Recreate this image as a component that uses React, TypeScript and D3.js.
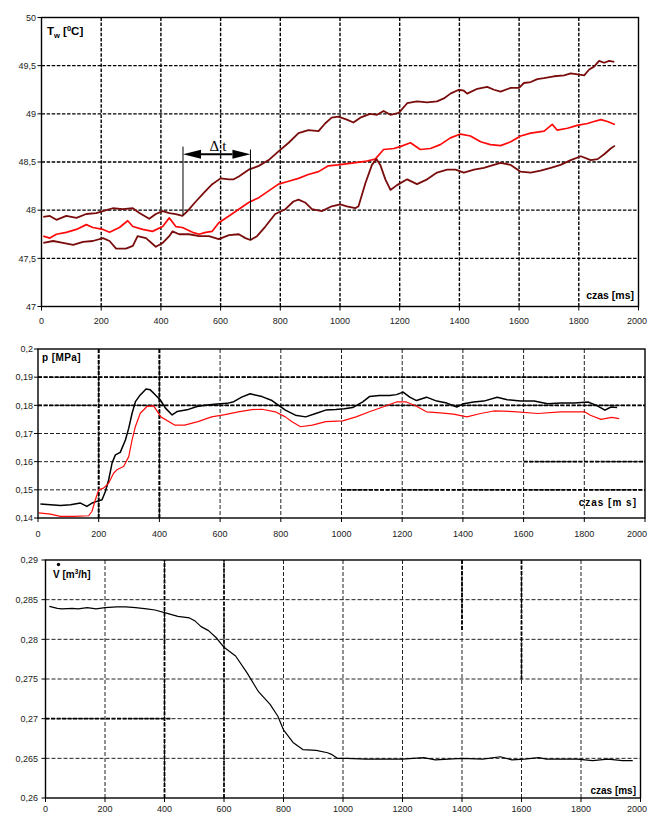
import React from "react";
import * as d3 from "d3";

// ---------- shared axis values ----------
const timeTicks = [0, 200, 400, 600, 800, 1000, 1200, 1400, 1600, 1800, 2000];
const timeGrid = [200, 400, 600, 800, 1000, 1200, 1400, 1600, 1800];

// ---------- panel 1: temperature ----------
const tempTicks = [47, 47.5, 48, 48.5, 49, 49.5, 50];
const tempUpper: [number, number][] = [
  [6, 47.93], [28, 47.94], [50, 47.9], [83, 47.94], [117, 47.92], [150, 47.96], [183, 47.97],
  [217, 48.0], [239, 48.02], [272, 48.01], [306, 48.02], [328, 47.97], [361, 47.91], [383, 47.96],
  [406, 47.99], [428, 47.97], [450, 47.96], [472, 47.94], [489, 47.99], [517, 48.09], [550, 48.2],
  [572, 48.27], [600, 48.33], [628, 48.32], [644, 48.32], [661, 48.35], [694, 48.42], [728, 48.46],
  [761, 48.52], [794, 48.61], [828, 48.7], [861, 48.8], [894, 48.83], [928, 48.82], [950, 48.9],
  [972, 48.96], [994, 48.97], [1023, 48.94], [1045, 48.91], [1068, 48.96], [1101, 49.0], [1124, 48.99],
  [1146, 49.03], [1169, 48.99], [1197, 49.01], [1225, 49.11], [1258, 49.13], [1292, 49.12], [1325, 49.13],
  [1348, 49.16], [1370, 49.21], [1398, 49.25], [1415, 49.24], [1426, 49.21], [1460, 49.26], [1493, 49.28],
  [1516, 49.25], [1538, 49.23], [1572, 49.27], [1600, 49.27], [1616, 49.32], [1639, 49.33], [1661, 49.36],
  [1683, 49.37], [1717, 49.39], [1751, 49.4], [1773, 49.42], [1796, 49.41], [1818, 49.4], [1835, 49.46],
  [1851, 49.49], [1868, 49.55], [1885, 49.53], [1902, 49.55], [1919, 49.54],
];
const tempMiddle: [number, number][] = [
  [6, 47.73], [28, 47.71], [50, 47.75], [83, 47.77], [117, 47.8], [150, 47.85], [172, 47.82],
  [206, 47.8], [228, 47.77], [261, 47.82], [289, 47.89], [306, 47.83], [339, 47.8], [372, 47.78],
  [406, 47.83], [428, 47.92], [450, 47.83], [472, 47.82], [506, 47.77], [528, 47.75], [550, 47.77],
  [572, 47.78], [594, 47.87], [628, 47.94], [661, 48.01], [694, 48.08], [728, 48.13], [761, 48.2],
  [794, 48.27], [828, 48.3], [861, 48.33], [894, 48.37], [928, 48.4], [961, 48.46], [994, 48.47],
  [1046, 48.49], [1090, 48.51], [1118, 48.53], [1146, 48.63], [1180, 48.64], [1202, 48.66], [1236, 48.7],
  [1269, 48.63], [1303, 48.64], [1336, 48.68], [1370, 48.75], [1404, 48.79], [1437, 48.77], [1471, 48.71],
  [1504, 48.68], [1538, 48.67], [1572, 48.71], [1605, 48.77], [1639, 48.8], [1684, 48.82], [1711, 48.89],
  [1728, 48.83], [1762, 48.85], [1795, 48.88], [1829, 48.9], [1851, 48.92], [1874, 48.94], [1896, 48.92],
  [1921, 48.89],
];
const tempLower: [number, number][] = [
  [6, 47.66], [39, 47.68], [72, 47.66], [106, 47.64], [139, 47.67], [172, 47.68], [206, 47.71],
  [228, 47.68], [250, 47.6], [283, 47.6], [306, 47.63], [322, 47.73], [350, 47.71], [383, 47.62],
  [406, 47.66], [428, 47.73], [439, 47.78], [461, 47.75], [494, 47.75], [528, 47.73], [561, 47.73],
  [594, 47.7], [628, 47.74], [661, 47.75], [683, 47.71], [700, 47.69], [722, 47.73], [750, 47.83],
  [783, 47.96], [817, 48.01], [844, 48.09], [861, 48.11], [883, 48.08], [906, 48.01], [939, 47.99],
  [972, 48.04], [1001, 48.06], [1023, 48.04], [1051, 48.02], [1062, 48.04], [1085, 48.28], [1107, 48.47],
  [1122, 48.53], [1135, 48.47], [1152, 48.32], [1169, 48.21], [1191, 48.26], [1225, 48.32], [1258, 48.27],
  [1292, 48.32], [1325, 48.39], [1359, 48.42], [1387, 48.42], [1415, 48.39], [1449, 48.42], [1482, 48.44],
  [1504, 48.46], [1538, 48.49], [1572, 48.47], [1605, 48.4], [1639, 48.39], [1672, 48.41], [1706, 48.44],
  [1739, 48.47], [1773, 48.52], [1807, 48.56], [1840, 48.52], [1863, 48.53], [1885, 48.58], [1907, 48.64],
  [1921, 48.67],
];
// Δt annotation: start/end times, marker tops/bottoms (°C), arrow level
const deltaTimes = [474, 700];
const deltaTops = [48.66, 48.63];
const deltaBottoms = [47.95, 47.69];
const deltaArrowLevel = 48.58;

// ---------- panel 2: pressure ----------
const presTicks = [0.14, 0.15, 0.16, 0.17, 0.18, 0.19, 0.2];
const presBlack: [number, number][] = [
  [8, 0.145], [41, 0.1447], [74, 0.1444], [107, 0.1447], [140, 0.1453], [161, 0.1441], [178, 0.1453],
  [194, 0.1459], [211, 0.1465], [222, 0.1494], [233, 0.1536], [244, 0.1595], [255, 0.1624], [271, 0.1633],
  [288, 0.1677], [299, 0.1719], [310, 0.1772], [321, 0.1813], [337, 0.1837], [356, 0.1858], [370, 0.1855],
  [387, 0.1837], [403, 0.1819], [420, 0.179], [442, 0.1766], [458, 0.1778], [491, 0.1784], [524, 0.1796],
  [557, 0.1801], [590, 0.1805], [623, 0.1807], [645, 0.1813], [671, 0.1829], [699, 0.1841], [738, 0.1831],
  [771, 0.1817], [793, 0.18], [815, 0.1783], [848, 0.1765], [882, 0.1759], [915, 0.1771], [948, 0.1783],
  [981, 0.1785], [1009, 0.1788], [1037, 0.1792], [1070, 0.1812], [1092, 0.1831], [1125, 0.1835],
  [1159, 0.1835], [1181, 0.1838], [1203, 0.1847], [1225, 0.1829], [1247, 0.1817], [1280, 0.1829],
  [1314, 0.1815], [1347, 0.1808], [1380, 0.1794], [1402, 0.1806], [1435, 0.1812], [1469, 0.1815],
  [1513, 0.1829], [1546, 0.182], [1590, 0.1815], [1635, 0.1815], [1679, 0.1806], [1723, 0.1808],
  [1768, 0.1808], [1812, 0.1812], [1840, 0.18], [1868, 0.1783], [1888, 0.1794], [1908, 0.1792],
];
const presRed: [number, number][] = [
  [2, 0.1418], [41, 0.1414], [74, 0.1406], [118, 0.1406], [167, 0.1408], [178, 0.1424], [189, 0.1465],
  [200, 0.15], [216, 0.1506], [233, 0.1524], [249, 0.1559], [260, 0.1571], [282, 0.1583], [299, 0.1618],
  [310, 0.1677], [321, 0.1725], [337, 0.1772], [359, 0.1796], [381, 0.1798], [405, 0.1759], [450, 0.173],
  [483, 0.173], [527, 0.1742], [572, 0.1759], [616, 0.1767], [660, 0.1777], [705, 0.1785], [738, 0.1786],
  [782, 0.1777], [815, 0.1759], [837, 0.1742], [865, 0.1724], [904, 0.173], [948, 0.1742], [1004, 0.1745],
  [1048, 0.1759], [1092, 0.1777], [1136, 0.1794], [1181, 0.1812], [1214, 0.1812], [1247, 0.1797],
  [1280, 0.1777], [1325, 0.1773], [1369, 0.1769], [1413, 0.1759], [1458, 0.1771], [1502, 0.178],
  [1568, 0.1778], [1646, 0.1771], [1723, 0.1777], [1801, 0.1777], [1820, 0.1765], [1855, 0.175],
  [1890, 0.1757], [1915, 0.1753],
];

// ---------- panel 3: flow rate ----------
const flowTicks = [0.26, 0.265, 0.27, 0.275, 0.28, 0.285, 0.29];
const flowV: [number, number][] = [
  [13, 0.28416], [40, 0.2839], [55, 0.28385], [90, 0.2839], [110, 0.28385], [140, 0.284], [170, 0.28385],
  [200, 0.2840], [239, 0.2841], [270, 0.2841], [303, 0.284], [340, 0.28385], [368, 0.2837], [406, 0.2833],
  [445, 0.2829], [484, 0.2827], [503, 0.2823], [523, 0.2816], [548, 0.2811], [574, 0.2802], [600, 0.279],
  [639, 0.2779], [677, 0.2758], [716, 0.2734], [755, 0.2718], [781, 0.2703], [800, 0.2686], [832, 0.267],
  [865, 0.2661], [910, 0.266], [948, 0.2657], [961, 0.2655], [981, 0.265], [1013, 0.265], [1077, 0.2649],
  [1140, 0.2649], [1200, 0.2649], [1271, 0.2651], [1310, 0.2648], [1400, 0.265], [1470, 0.2649],
  [1529, 0.2652], [1568, 0.2648], [1610, 0.2649], [1658, 0.2651], [1684, 0.2649], [1787, 0.2649],
  [1839, 0.2647], [1890, 0.2649], [1940, 0.2647], [1974, 0.2647],
];

const SANS = "'Liberation Sans', Arial, Helvetica, sans-serif";
const SERIF = "'Liberation Serif', 'Times New Roman', serif";
const comma = (d: number) => String(d).replace(".", ",");

type Seg = { axis: "x" | "y"; v: number; from: number; to: number; w: number };

interface PanelProps {
  left: number; right: number; top: number; bottom: number;
  yDomain: [number, number];
  yTicks: number[];
  yLabelX: number;
  xLabelY: number;
  gridW: number;
  gridDash: string;
  gridColor: string;
  heavy?: Seg[];
  series: { data: [number, number][]; color: string; width: number }[];
  children?: (x: d3.ScaleLinear<number, number>, y: d3.ScaleLinear<number, number>) => React.ReactNode;
}

function Panel(p: PanelProps) {
  const x = d3.scaleLinear().domain([0, 2000]).range([p.left, p.right]);
  const y = d3.scaleLinear().domain(p.yDomain).range([p.bottom, p.top]);
  const line = d3.line<[number, number]>().x((d) => x(d[0])).y((d) => y(d[1]));
  const yGrid = p.yTicks.slice(1, -1);
  return (
    <g>
      {timeGrid.map((t) => (
        <line key={"vx" + t} x1={x(t)} x2={x(t)} y1={p.top} y2={p.bottom}
          stroke={p.gridColor} strokeWidth={p.gridW} strokeDasharray={p.gridDash} />
      ))}
      {yGrid.map((v) => (
        <line key={"hy" + v} x1={p.left} x2={p.right} y1={y(v)} y2={y(v)}
          stroke={p.gridColor} strokeWidth={p.gridW} strokeDasharray={p.gridDash} />
      ))}
      {(p.heavy || []).map((s, i) =>
        s.axis === "x" ? (
          <line key={"h" + i} x1={x(s.v)} x2={x(s.v)} y1={y(s.from)} y2={y(s.to)}
            stroke="#000" strokeWidth={s.w} strokeDasharray="4,1.5" />
        ) : (
          <line key={"h" + i} x1={x(s.from)} x2={x(s.to)} y1={y(s.v)} y2={y(s.v)}
            stroke="#000" strokeWidth={s.w} strokeDasharray="4,1.5" />
        )
      )}
      {p.series.map((s, i) => (
        <path key={"s" + i} d={line(s.data) || ""} fill="none" stroke={s.color}
          strokeWidth={s.width} strokeLinejoin="round" />
      ))}
      <rect x={p.left} y={p.top} width={p.right - p.left} height={p.bottom - p.top}
        fill="none" stroke="#000" strokeWidth={1.4} />
      {timeTicks.map((t) => (
        <g key={"xt" + t}>
          <line x1={x(t)} x2={x(t)} y1={p.bottom} y2={p.bottom + 4} stroke="#000" strokeWidth={1} />
          <text x={Math.min(x(t), 637)} y={p.xLabelY} textAnchor="middle" fontFamily={SANS} fontSize={9} fill="#222">{t}</text>
        </g>
      ))}
      {p.yTicks.map((v) => (
        <g key={"yt" + v}>
          <line x1={p.left - 4} x2={p.left} y1={y(v)} y2={y(v)} stroke="#000" strokeWidth={1} />
          <text x={p.yLabelX} y={y(v) + 3.2} textAnchor="end" fontFamily={SANS} fontSize={9} fill="#222">{comma(v)}</text>
        </g>
      ))}
      {p.children && p.children(x, y)}
    </g>
  );
}

export default function App() {
  return (
    <svg width={650} height={813} style={{ position: "absolute", left: 0, top: 0, background: "#fff" }}>
      <rect width={650} height={813} fill="#fff" />
      {/* Panel 1 */}
      <Panel left={41.5} right={638.5} top={17.5} bottom={306.5} yDomain={[47, 50]} yTicks={tempTicks}
        yLabelX={36} xLabelY={324} gridW={1.4} gridDash="3.5,1.6" gridColor="#000"
        series={[
          { data: tempUpper, color: "#7a0c0c", width: 1.8 },
          { data: tempMiddle, color: "#ff0a0a", width: 1.7 },
          { data: tempLower, color: "#7a0c0c", width: 1.8 },
        ]}>
        {(x, y) => {
          const xa = x(deltaTimes[0]);
          const xb = x(deltaTimes[1]);
          const ya = y(deltaArrowLevel);
          const cx = (xa + xb) / 2;
          const ah = 18;
          return (
            <g>
              {deltaTimes.map((t, i) => (
                <line key={"dl" + i} x1={x(t)} x2={x(t)} y1={y(deltaTops[i])} y2={y(deltaBottoms[i])}
                  stroke="#000" strokeWidth={1} />
              ))}
              <line x1={xa + ah} x2={xb - ah} y1={ya} y2={ya} stroke="#000" strokeWidth={2} />
              <polygon points={`${xa},${ya} ${xa + ah},${ya - 4.5} ${xa + ah},${ya + 4.5}`} fill="#000" />
              <polygon points={`${xb},${ya} ${xb - ah},${ya - 4.5} ${xb - ah},${ya + 4.5}`} fill="#000" />
              <text x={cx + 2.5} y={ya - 3.5} textAnchor="end" fontFamily={SERIF} fontSize={15}>Δ</text>
              <text x={cx + 5.5} y={ya - 3.5} textAnchor="start" fontFamily={SERIF} fontSize={15}>t</text>
              <text x={47} y={35} fontFamily={SANS} fontSize={11.5} fontWeight="bold">
                T<tspan fontSize={7.5} dy={3}>w</tspan>
                <tspan dy={-3}> [</tspan>
                <tspan fontSize={7.5} dy={-4.5}>0</tspan>
                <tspan dy={4.5}>C]</tspan>
              </text>
              <text x={634} y={299} textAnchor="end" fontFamily={SANS} fontSize={10.5} fontWeight="bold">czas [ms]</text>
            </g>
          );
        }}
      </Panel>

      {/* Panel 2 */}
      <Panel left={38} right={645} top={349} bottom={518} yDomain={[0.14, 0.2]} yTicks={presTicks}
        yLabelX={33} xLabelY={537} gridW={1} gridDash="4,2" gridColor="#222"
        heavy={[
          { axis: "x", v: 200, from: 0.14, to: 0.2, w: 2 },
          { axis: "x", v: 400, from: 0.14, to: 0.2, w: 2 },
          { axis: "y", v: 0.19, from: 0, to: 2000, w: 1.8 },
          { axis: "y", v: 0.18, from: 0, to: 2000, w: 1.8 },
          { axis: "y", v: 0.16, from: 1600, to: 2000, w: 1.6 },
          { axis: "y", v: 0.15, from: 1000, to: 2000, w: 1.6 },
        ]}
        series={[
          { data: presBlack, color: "#000", width: 1.5 },
          { data: presRed, color: "#ff0a0a", width: 1.2 },
        ]}>
        {() => (
          <g>
            <text x={42} y={361} fontFamily={SANS} fontSize={10} fontWeight="bold" letterSpacing={0.4}>p [MPa]</text>
            <text x={637} y={506} textAnchor="end" fontFamily={SANS} fontSize={10} fontWeight="bold" letterSpacing={1}>czas [m s]</text>
          </g>
        )}
      </Panel>

      {/* Panel 3 */}
      <Panel left={45.5} right={640.5} top={560} bottom={798} yDomain={[0.26, 0.29]} yTicks={flowTicks}
        yLabelX={38} xLabelY={812} gridW={1} gridDash="4,2" gridColor="#222"
        heavy={[
          { axis: "x", v: 400, from: 0.26, to: 0.29, w: 1.8 },
          { axis: "x", v: 600, from: 0.26, to: 0.29, w: 1.6 },
          { axis: "x", v: 1400, from: 0.29, to: 0.281, w: 1.8 },
          { axis: "x", v: 1600, from: 0.29, to: 0.2748, w: 1.8 },
          { axis: "y", v: 0.27, from: 0, to: 420, w: 1.8 },
        ]}
        series={[{ data: flowV, color: "#000", width: 1.2 }]}>
        {() => (
          <g>
            <circle cx={58.5} cy={564.5} r={1.7} fill="#000" />
            <text x={53} y={578} fontFamily={SANS} fontSize={10} fontWeight="bold">
              V [m<tspan fontSize={6.5} dy={-4}>3</tspan>
              <tspan dy={4}>/h]</tspan>
            </text>
            <text x={636} y={794} textAnchor="end" fontFamily={SANS} fontSize={10} fontWeight="bold">czas [ms]</text>
          </g>
        )}
      </Panel>
    </svg>
  );
}
